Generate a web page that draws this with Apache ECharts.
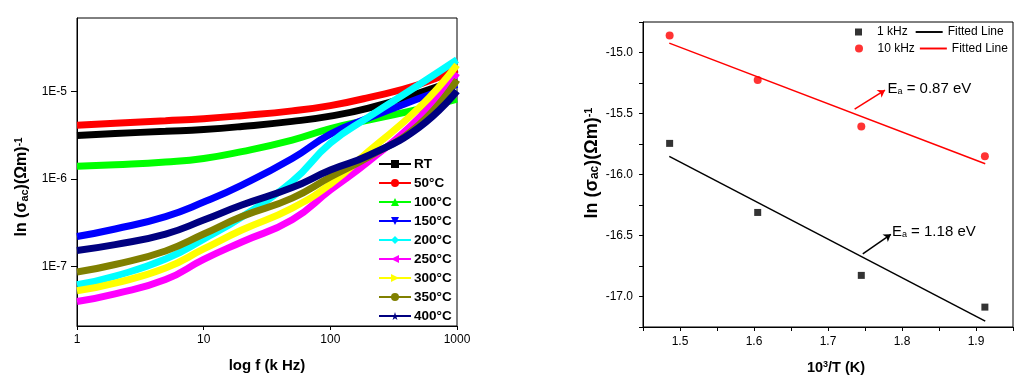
<!DOCTYPE html>
<html><head><meta charset="utf-8">
<script src="https://cdn.jsdelivr.net/npm/echarts@6/dist/echarts.min.js"></script>
<style>html,body{margin:0;padding:0;background:#fff}#c{width:1024px;height:391px}</style>
</head><body><div id="c"></div>
<script>
// ---------- Left panel data (sigma_ac vs frequency, kHz) ----------
const freqs = [1, 2, 5, 10, 20, 50, 100, 200, 500, 1000];
const tempNames = ['RT', '50°C', '100°C', '150°C', '200°C', '250°C', '300°C', '350°C', '400°C'];
const rtVals   = [3.14e-6, 3.30e-6, 3.50e-6, 3.67e-6, 3.97e-6, 4.54e-6, 5.22e-6, 6.44e-6, 9.56e-6, 1.38e-5];
const t50Vals  = [4.09e-6, 4.32e-6, 4.62e-6, 4.88e-6, 5.28e-6, 5.99e-6, 6.88e-6, 8.49e-6, 1.20e-5, 1.80e-5];
const t100Vals = [1.39e-6, 1.45e-6, 1.56e-6, 1.71e-6, 2.05e-6, 2.78e-6, 3.76e-6, 4.70e-6, 6.28e-6, 8.17e-6];
const t150Vals = [2.19e-7, 2.67e-7, 3.71e-7, 5.43e-7, 8.49e-7, 1.71e-6, 3.25e-6, 4.95e-6, 8.27e-6, 1.20e-5];
const t200Vals = [6.16e-8, 7.75e-8, 1.21e-7, 2.05e-7, 3.66e-7, 9.36e-7, 2.56e-6, 5.08e-6, 1.19e-5, 2.30e-5];
const t250Vals = [3.96e-8, 4.85e-8, 7.06e-8, 1.20e-7, 1.90e-7, 3.41e-7, 7.45e-7, 1.58e-6, 4.95e-6, 1.62e-5];
const t300Vals = [5.26e-8, 6.44e-8, 9.56e-8, 1.58e-7, 2.60e-7, 4.64e-7, 8.72e-7, 2.06e-6, 6.44e-6, 2.01e-5];
const t350Vals = [8.61e-8, 1.05e-7, 1.50e-7, 2.34e-7, 3.71e-7, 6.03e-7, 1.05e-6, 1.78e-6, 4.15e-6, 1.35e-5];
const t400Vals = [1.52e-7, 1.77e-7, 2.34e-7, 3.38e-7, 5.02e-7, 7.95e-7, 1.26e-6, 1.85e-6, 3.86e-6, 1.01e-5];
const leftXTicks = [1, 10, 100, 1000];
const leftYTicks = [1e-7, 1e-6, 1e-5];

// ---------- Right panel data (Arrhenius plot) ----------
const invT = [1.486, 1.605, 1.745, 1.912];
const ln1k = [-15.745, -16.311, -16.827, -17.087];
const ln10k = [-14.861, -15.226, -15.606, -15.850];
const fit1kX = [1.4855, 1.9125];
const fit1kY = [-15.852, -17.202];
const fit10kX = [1.4855, 1.9125];
const fit10kY = [-14.923, -15.912];
const rightXTicks = [1.5, 1.6, 1.7, 1.8, 1.9];
const rightYTicks = [-15.0, -15.5, -16.0, -16.5, -17.0];

const FONT = '"Liberation Sans", Arial, sans-serif';
const colors = ['#000000', '#FF0000', '#00FF00', '#0000FF', '#00FFFF', '#FF00FF', '#FFFF00', '#808000', '#000080'];
const symbols = ['rect', 'circle', 'triangle', 'triangle', 'diamond', 'triangle', 'triangle', 'circle',
  'path://M50,0 L61,35 L98,35 L68,57 L79,91 L50,70 L21,91 L32,57 L2,35 L39,35 Z'];
const rotates = [0, 0, 0, 180, 0, 90, -90, 0, 0];
const allVals = [rtVals, t50Vals, t100Vals, t150Vals, t200Vals, t250Vals, t300Vals, t350Vals, t400Vals];

const series = [];
allVals.forEach((vals, i) => {
  series.push({
    name: tempNames[i], type: 'line', xAxisIndex: 0, yAxisIndex: 0,
    data: freqs.map((f, k) => [f, vals[k]]),
    smooth: 0.5, showSymbol: false, symbol: symbols[i], symbolRotate: rotates[i],
    lineStyle: { color: colors[i], width: 7 }, itemStyle: { color: colors[i] },
    animation: false, silent: true
  });
});

const arrowLine = (color, from, to) => ({
  symbol: ['none', 'arrow'], symbolSize: 7, silent: true, animation: false,
  label: { show: false },
  lineStyle: { color: color, width: 1.5, type: 'solid' },
  data: [[{ coord: from }, { coord: to }]]
});
const eaLabel = (coord, val) => ({
  silent: true, animation: false,
  symbol: 'circle', symbolSize: 1, itemStyle: { color: 'rgba(0,0,0,0)' },
  label: {
    show: true, position: 'right', distance: 0,
    formatter: '{e|E}{s|a}{t| = ' + val + ' eV}',
    rich: {
      e: { fontSize: 15, color: '#000', fontFamily: FONT },
      s: { fontSize: 9, color: '#000', fontFamily: FONT, verticalAlign: 'bottom' },
      t: { fontSize: 15, color: '#000', fontFamily: FONT }
    }
  },
  data: [{ coord: coord }]
});

series.push({
  name: '1 kHz', type: 'scatter', xAxisIndex: 1, yAxisIndex: 1,
  data: invT.map((x, k) => [x, ln1k[k]]), symbol: 'rect', symbolSize: 7,
  itemStyle: { color: '#000' }, animation: false, silent: true
});
series.push({
  name: 'Fitted Line', type: 'line', xAxisIndex: 1, yAxisIndex: 1,
  data: fit1kX.map((x, k) => [x, fit1kY[k]]), showSymbol: false, symbol: 'none',
  lineStyle: { color: '#000', width: 1.5 }, itemStyle: { color: '#000' }, animation: false, silent: true,
  markLine: arrowLine('#000', [1.747, -16.650], [1.785, -16.49]),
  markPoint: eaLabel([1.7857, -16.467], '1.18')
});
series.push({
  name: '10 kHz', type: 'scatter', xAxisIndex: 1, yAxisIndex: 1,
  data: invT.map((x, k) => [x, ln10k[k]]), symbol: 'circle', symbolSize: 8,
  itemStyle: { color: '#FF0000' }, animation: false, silent: true
});
series.push({
  name: 'Fitted Line ', type: 'line', xAxisIndex: 1, yAxisIndex: 1,
  data: fit10kX.map((x, k) => [x, fit10kY[k]]), showSymbol: false, symbol: 'none',
  lineStyle: { color: '#FF0000', width: 1.5 }, itemStyle: { color: '#FF0000' }, animation: false, silent: true,
  markLine: arrowLine('#FF0000', [1.736, -15.464], [1.777, -15.309]),
  markPoint: eaLabel([1.7797, -15.298], '0.87')
});

const isDecade = v => { const e = Math.log10(v); return Math.abs(e - Math.round(e)) < 1e-6; };
const lineIcon = 'path://M0,0H28V2H0Z';
const squareIcon = 'path://M0,0H10V10H0Z';
const axisLineS = { show: true, onZero: false, lineStyle: { color: '#000', width: 1 } };
const lblS = { color: '#000', fontSize: 12, fontFamily: FONT };

const titleRich = (size) => ({
  b: { fontFamily: FONT, fontWeight: 'bold', fontSize: size, fill: '#000' },
  s: { fontFamily: FONT, fontWeight: 'bold', fontSize: Math.round(size * 0.69), fill: '#000', verticalAlign: 'bottom' },
  p: { fontFamily: FONT, fontWeight: 'bold', fontSize: Math.round(size * 0.63), fill: '#000', verticalAlign: 'top' }
});

const option = {
  backgroundColor: '#fff',
  animation: false,
  grid: [
    { left: 77, top: 18, width: 380, height: 308, show: true, borderColor: '#000', borderWidth: 1, backgroundColor: 'transparent' },
    { left: 643, top: 22, width: 370, height: 305, show: true, borderColor: '#000', borderWidth: 1, backgroundColor: 'transparent' }
  ],
  xAxis: [
    { type: 'log', logBase: 10, gridIndex: 0, min: leftXTicks[0], max: leftXTicks[leftXTicks.length - 1],
      axisLine: axisLineS, axisTick: { show: true, inside: false, length: 4, lineStyle: { color: '#000' } },
      minorTick: { show: false }, splitLine: { show: false },
      axisLabel: Object.assign({ margin: 8, formatter: v => isDecade(v) ? String(Math.round(v)) : '' }, lblS) },
    { type: 'value', gridIndex: 1, min: 1.45, max: 1.95, interval: 0.05,
      axisLine: axisLineS,
      axisTick: { show: true, length: 4, lineStyle: { color: '#000' } },
      splitLine: { show: false },
      axisLabel: Object.assign({ margin: 9,
        formatter: v => rightXTicks.some(t => Math.abs(t - v) < 1e-6) ? v.toFixed(1) : '' }, lblS) }
  ],
  yAxis: [
    { type: 'log', logBase: 10, gridIndex: 0, min: 2.08e-8, max: 6.9e-5,
      axisLine: axisLineS, axisTick: { show: true, length: 6, lineStyle: { color: '#000' } },
      minorTick: { show: false }, splitLine: { show: false },
      axisLabel: Object.assign({ margin: 10, showMinLabel: false, showMaxLabel: false,
        formatter: v => (leftYTicks.some(t => Math.abs(Math.log10(t) - Math.log10(v)) < 1e-6)) ? '1E' + Math.round(Math.log10(v)) : '' }, lblS) },
    { type: 'value', gridIndex: 1, min: -17.25, max: -14.75, interval: 0.25,
      axisLine: axisLineS,
      axisTick: { show: true, length: 4, lineStyle: { color: '#000' } },
      splitLine: { show: false },
      axisLabel: Object.assign({ margin: 10,
        formatter: v => rightYTicks.some(t => Math.abs(t - v) < 1e-6) ? v.toFixed(1) : '' }, lblS) }
  ],
  legend: [
    { data: tempNames, orient: 'vertical', left: 373, top: 152, itemWidth: 32, itemHeight: 10, itemGap: 5,
      selectedMode: false, padding: 5,
      lineStyle: { width: 2 },
      textStyle: { fontFamily: FONT, fontWeight: 'bold', fontSize: 13.5, color: '#000', padding: [0, 0, 0, -2] } },
    { data: [{ name: '1 kHz', icon: squareIcon }, { name: 'Fitted Line', icon: lineIcon }], orient: 'horizontal', left: 855, top: 26,
      itemWidth: 27, itemHeight: 7, itemGap: 8, selectedMode: false, padding: 0, width: 169,
      textStyle: { fontFamily: FONT, fontSize: 12, color: '#000' } },
    { data: [{ name: '10 kHz' }, { name: 'Fitted Line ', icon: lineIcon }], orient: 'horizontal', left: 855, top: 42.5,
      itemWidth: 27, itemHeight: 8, itemGap: 5, selectedMode: false, padding: 0, width: 169,
      textStyle: { fontFamily: FONT, fontSize: 12, color: '#000' } }
  ],
  graphic: [
    { type: 'text', x: 267, y: 366, silent: true,
      style: { text: 'log f (k Hz)', fontFamily: FONT, fontWeight: 'bold', fontSize: 15, fill: '#000', align: 'center', verticalAlign: 'middle' } },
    { type: 'text', x: 836, y: 368, silent: true,
      style: { text: '{b|10}{p|3}{b|/T (K)}', align: 'center', verticalAlign: 'middle',
        rich: { b: { fontFamily: FONT, fontWeight: 'bold', fontSize: 14.5, fill: '#000' },
                p: { fontFamily: FONT, fontWeight: 'bold', fontSize: 9, fill: '#000', verticalAlign: 'top' } } } },
    { type: 'text', x: 22, y: 187, rotation: Math.PI / 2, silent: true,
      style: { text: '{b|ln (σ}{s|ac}{b|)(Ωm)}{p|-1}', align: 'center', verticalAlign: 'middle', rich: titleRich(16) } },
    { type: 'text', x: 592, y: 163, rotation: Math.PI / 2, silent: true,
      style: { text: '{b|ln (σ}{s|ac}{b|)(Ωm)}{p|-1}', align: 'center', verticalAlign: 'middle', rich: titleRich(18) } }
  ],
  series: series
};

const chart = echarts.init(document.getElementById('c'), null, { renderer: 'canvas' });
chart.setOption(option);
</script>
</body></html>
